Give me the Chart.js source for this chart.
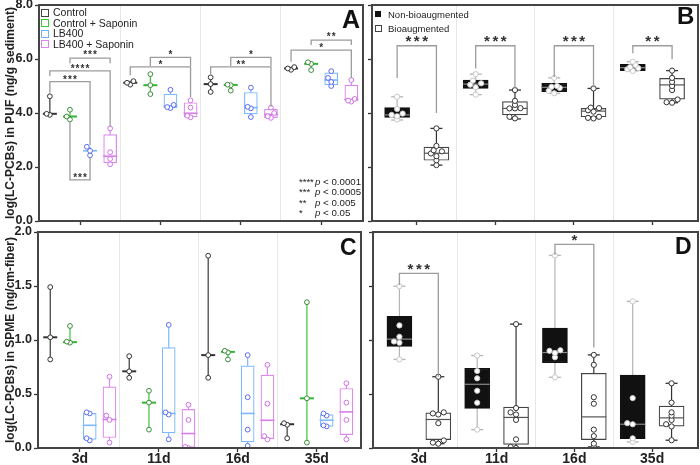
<!DOCTYPE html>
<html><head><meta charset="utf-8">
<script src="https://cdn.jsdelivr.net/npm/chart.js@4.4.1/dist/chart.umd.min.js"></script>
<style>
html,body{margin:0;padding:0;background:#fff;}
#wrap{position:relative;width:700px;height:465px;overflow:hidden;font-family:'Liberation Sans',Arial,sans-serif;color:#222;}
canvas{position:absolute;}
.t{position:absolute;white-space:nowrap;line-height:11px;}
.sq{position:absolute;box-sizing:border-box;background:#fff;}
.L{position:absolute;font-weight:bold;line-height:1;color:#111;}
</style></head><body>
<div id="wrap">
<canvas id="cA" width="368" height="232" style="left:0;top:0"></canvas>
<canvas id="cB" width="332" height="232" style="left:368px;top:0"></canvas>
<canvas id="cC" width="368" height="240" style="left:0;top:225px"></canvas>
<canvas id="cD" width="332" height="240" style="left:368px;top:225px"></canvas>

<div class="sq" style="left:41px;top:8.5px;width:8px;height:8px;border:1.3px solid #444"></div>
<div class="sq" style="left:41px;top:19px;width:8px;height:8px;border:1.3px solid #33cc33"></div>
<div class="sq" style="left:41px;top:29.5px;width:8px;height:8px;border:1.3px solid #6fb2ff"></div>
<div class="sq" style="left:41px;top:40px;width:8px;height:8px;border:1.3px solid #de86ee"></div>
<div class="t" style="left:53px;top:7.2px;font-size:10.5px">Control</div>
<div class="t" style="left:53px;top:17.7px;font-size:10.5px">Control + Saponin</div>
<div class="t" style="left:53px;top:28.2px;font-size:10.5px">LB400</div>
<div class="t" style="left:53px;top:38.7px;font-size:10.5px">LB400 + Saponin</div>

<div class="t" style="left:299px;top:176px;font-size:9.5px">****</div>
<div class="t" style="left:299px;top:186.3px;font-size:9.5px">***</div>
<div class="t" style="left:299px;top:196.6px;font-size:9.5px">**</div>
<div class="t" style="left:299px;top:206.9px;font-size:9.5px">*</div>
<div class="t" style="left:315px;top:176px;font-size:9.7px"><i>p</i> &lt; 0.0001</div>
<div class="t" style="left:315px;top:186.3px;font-size:9.7px"><i>p</i> &lt; 0.0005</div>
<div class="t" style="left:315px;top:196.6px;font-size:9.7px"><i>p</i> &lt; 0.005</div>
<div class="t" style="left:315px;top:206.9px;font-size:9.7px"><i>p</i> &lt; 0.05</div>

<div class="sq" style="left:375px;top:11px;width:6px;height:6px;background:#111"></div>
<div class="sq" style="left:375px;top:24.5px;width:7px;height:7px;border:1px solid #444"></div>
<div class="t" style="left:388px;top:9.2px;font-size:9.5px">Non-bioaugmented</div>
<div class="t" style="left:388px;top:22.7px;font-size:9.5px">Bioaugmented</div>

<div class="L" style="left:342px;top:6.7px;font-size:25px">A</div>
<div class="L" style="left:677px;top:4px;font-size:24px">B</div>
<div class="L" style="left:340px;top:236px;font-size:23px">C</div>
<div class="L" style="left:675px;top:235px;font-size:23px">D</div>
</div>
<script>
// ---------- data ----------
const days = ['3d', '11d', '16d', '35d'];

// Panel A: log(LC-PCBs) in PUF; box rows = [min, q1, median, q3, max] per day
const A_ctrl_box = [[3.93,null,3.97,null,4.62],[5.05,null,5.12,null,5.19],[4.78,null,5.07,null,5.32],[5.6,null,5.65,null,5.71]];
const A_ctrl_pts = [[3.93,3.97,4.62],[5.05,5.12,5.18],[4.78,5.07,5.32],[5.6,5.65,5.7]];
const A_sap_box  = [[3.76,null,3.87,null,4.12],[4.7,null,5.03,null,5.44],[4.83,null,5.04,null,5.05],[5.59,null,5.82,null,5.88]];
const A_sap_pts  = [[3.76,3.87,4.12],[4.7,5.03,5.44],[4.83,5.03,5.05],[5.59,5.82,5.88]];
const A_lb_box   = [[2.43,null,2.6,null,2.75],[4.18,4.2,4.25,4.7,4.87],[3.85,3.97,4.2,4.76,4.94],[5.0,5.04,5.22,5.49,5.56]];
const A_lb_pts   = [[2.43,2.6,2.75],[4.18,4.22,4.3,4.86],[3.85,4.17,4.23,4.94],[5.0,5.15,5.3,5.55]];
const A_lbs_box  = [[2.1,2.15,2.4,3.2,3.43],[3.84,3.86,3.99,4.38,4.48],[3.82,3.83,3.95,4.14,4.2],[4.42,4.45,4.5,5.03,5.25]];
const A_lbs_pts  = [[2.1,2.3,2.55,3.43],[3.84,3.9,4.2,4.47],[3.82,3.88,4.0,4.2],[4.42,4.46,4.52,5.22]];
// significance: [day, series1, series2, bracket y, leg1 end, leg2 end, label, label y]
const A_sig = [
  [0,1,3,6.03,5.84,5.84,'***',6.26],
  [0,0,3,5.56,5.37,3.5,'****',5.74],
  [0,0,2,5.16,4.75,2.81,'***',5.34],
  [0,1,2,1.52,3.7,2.35,'***',1.72],
  [1,1,3,6.06,5.74,5.74,'*',6.27],
  [1,0,3,5.71,5.4,4.59,'*',5.9],
  [2,1,3,6.06,5.74,5.74,'*',6.27],
  [2,0,3,5.71,5.4,4.23,'**',5.9],
  [3,1,3,6.7,6.52,6.52,'**',6.93],
  [3,0,3,6.33,5.9,5.3,'*',6.52]
];

// Panel B: PUF, non-bioaugmented vs bioaugmented
const B_non_box = [[3.74,3.84,3.93,4.2,4.6],[4.68,4.91,5.07,5.22,5.44],[4.73,4.79,4.95,5.1,5.3],[5.56,5.57,5.68,5.8,5.9]];
const B_non_pts = [[3.76,3.88,3.93,3.98,4.15,4.6],[4.68,4.95,5.05,5.1,5.2,5.44],[4.73,4.82,4.93,4.97,5.0,5.3],[5.56,5.62,5.66,5.7,5.78,5.9]];
const B_bio_box = [[2.07,2.25,2.51,2.74,3.43],[3.78,3.93,4.17,4.42,4.85],[3.8,3.86,4.07,4.17,4.91],[4.38,4.51,5.04,5.28,5.57]];
const B_bio_pts = [[2.07,2.25,2.4,2.5,2.58,2.62,2.78,3.43],[3.8,3.86,4.17,4.17,4.18,4.3,4.45,4.85],[3.8,3.82,3.86,4.05,4.1,4.18,4.2,4.91],[4.38,4.4,4.5,4.85,5.0,5.15,5.3,5.57]];
const B_sig = [
  [0,0,1,6.49,5.3,4.0,'***',6.83],
  [1,0,1,6.49,5.65,4.91,'***',6.83],
  [2,0,1,6.49,5.32,4.95,'***',6.83],
  [3,0,1,6.49,6.21,5.99,'**',6.83]
];

// Panel C: log(LC-PCBs) in SPME
const C_ctrl_box = [[0.82,null,1.025,null,1.49],[0.65,null,0.71,null,0.85],[0.65,null,0.86,null,1.78],[0.09,null,0.22,null,0.23]];
const C_ctrl_pts = [[0.82,1.025,1.49],[0.65,0.71,0.85],[0.65,0.86,1.78],[0.09,0.215,0.23]];
const C_sap_box  = [[0.975,null,0.98,null,1.13],[0.17,null,0.42,null,0.53],[0.82,null,0.89,null,0.9],[0.05,null,0.46,null,1.35]];
const C_sap_pts  = [[0.975,0.985,1.13],[0.17,0.42,0.53],[0.82,0.885,0.9],[0.05,0.46,1.35]];
const C_lb_box   = [[0.07,0.08,0.21,0.32,0.33],[0.08,0.14,0.32,0.93,1.14],[0.02,0.056,0.32,0.76,0.86],[0.2,0.2,0.257,0.31,0.32]];
const C_lb_pts   = [[0.07,0.09,0.32,0.33],[0.08,0.31,0.33,1.14],[0.02,0.17,0.47,0.86],[0.2,0.21,0.3,0.32]];
const C_lbs_box  = [[0.05,0.097,0.264,0.567,0.666],[0.0,0.005,0.134,0.357,0.397],[0.075,0.087,0.257,0.675,0.768],[0.075,0.124,0.334,0.551,0.603]];
const C_lbs_pts  = [[0.05,0.26,0.3,0.66],[0.0,0.01,0.26,0.4],[0.08,0.11,0.41,0.77],[0.08,0.26,0.42,0.6]];

// Panel D: SPME, non-bioaugmented vs bioaugmented
const D_non_box = [[0.82,0.94,1.008,1.219,1.498],[0.17,0.366,0.59,0.738,0.856],[0.655,0.79,0.884,1.11,1.783],[0.056,0.087,0.22,0.676,1.358]];
const D_non_pts = [[0.82,0.975,0.986,1.03,1.135,1.498],[0.17,0.419,0.53,0.645,0.713,0.856],[0.655,0.84,0.88,0.9,0.905,1.783],[0.056,0.09,0.22,0.23,0.462,1.358]];
const D_bio_box = [[0.04,0.078,0.264,0.326,0.66],[0.0,0.034,0.283,0.378,1.147],[0.01,0.078,0.288,0.692,0.862],[0.072,0.202,0.279,0.388,0.599]];
const D_bio_pts = [[0.04,0.05,0.07,0.23,0.31,0.32,0.33,0.66],[0.0,0.01,0.08,0.26,0.31,0.33,0.37,1.147],[0.01,0.04,0.11,0.17,0.41,0.47,0.77,0.862],[0.072,0.2,0.22,0.26,0.3,0.33,0.42,0.599]];
const D_sig = [
  [0,0,1,1.616,1.51,0.66,'***',1.69],
  [2,0,1,1.886,1.79,0.93,'*',1.965]
];

// ---------- styles / rendering ----------
Chart.defaults.font.family = "'Liberation Sans', Arial, sans-serif";
const JIT = [0,-1,1,-0.5,0.5,-1.5,1.5,-0.25,0.25];
function jitter(vals, thr) {
  const s = [...vals].sort((a,b)=>a-b); let k = 0;
  return s.map((v,i)=>{ if (i>0 && v - s[i-1] < thr) k++; else k = 0; return [v, JIT[k % JIT.length]]; });
}
const S4 = {
  ctrl: {whisk:'#3a3a3a', edge:'#3a3a3a', fill:'#fff', med:'#333', medW:2, ptFill:'#fff', ptEdge:'#333'},
  sap:  {whisk:'#3cc43c', edge:'#3cc43c', fill:'#fff', med:'#2fb82f', medW:2, ptFill:'#fff', ptEdge:'#3a8a3a'},
  lb:   {whisk:'#7dbaff', edge:'#7dbaff', fill:'#fff', med:'#7dbaff', medW:1.6, ptFill:'#fff', ptEdge:'#5a6cf0'},
  lbs:  {whisk:'#dd88ee', edge:'#dd88ee', fill:'#fff', med:'#d77fe6', medW:1.6, ptFill:'#fff', ptEdge:'#d070e8'}
};
const S2 = {
  non: {whisk:'#b4b4b4', edge:'#111', fill:'#111', med:'#8a8a8a', medW:1.2, ptFill:'#fff', ptEdge:'#c8c8c8'},
  bio: {whisk:'#333', edge:'#444', fill:'#fff', med:'#555', medW:1.2, ptFill:'#fff', ptEdge:'#333'}
};

function makePanel(id, P) {
  const datasets = [];
  P.series.forEach((s, si) => {
    const off = P.offs[si];
    const X = g => g + 0.5 + off;
    const wh = [];
    s.box.forEach((b,g)=>{ wh.push({x:X(g),y:b[0]},{x:X(g),y:b[4]},{x:X(g),y:null}); });
    datasets.push({type:'line', data:wh, borderColor:s.whisk, borderWidth:1.2, pointRadius:0, spanGaps:false, order:10});
    if (P.capR) {
      const caps = [];
      s.box.forEach((b,g)=>{ caps.push({x:X(g),y:b[0]},{x:X(g),y:b[4]}); });
      datasets.push({type:'scatter', data:caps, pointStyle:'line', pointRadius:P.capR, borderColor:s.whisk, pointBorderColor:s.whisk, pointBorderWidth:1.3, order:9});
    }
    const bars = [];
    s.box.forEach((b,g)=>{ if (b[1] != null) bars.push({x:X(g), y:[b[1], b[3]]}); });
    datasets.push({type:'bar', data:bars, backgroundColor:s.fill, borderColor:s.edge, borderWidth:1.2, borderSkipped:false, barThickness:P.boxW, grouped:false, order:8});
    datasets.push({type:'scatter', data:s.box.map((b,g)=>({x:X(g), y:b[2]})), pointStyle:'line', pointRadius:P.medR, borderColor:s.med, pointBorderColor:s.med, pointBorderWidth:s.medW, order:7});
    const pts = [];
    s.pts.forEach((arr,g)=>{ jitter(arr, P.thr).forEach(([v,j])=>pts.push({x:X(g) + j*P.jw, y:v})); });
    datasets.push({type:'scatter', data:pts, pointStyle:'circle', pointRadius:P.ptR, backgroundColor:s.ptFill, pointBackgroundColor:s.ptFill, borderColor:s.ptEdge, pointBorderColor:s.ptEdge, pointBorderWidth:1, order:6});
  });
  const br = [], labels = [];
  P.sig.forEach(([g,s1,s2,top,l1,l2,txt,ly])=>{
    const x1 = g + 0.5 + P.offs[s1], x2 = g + 0.5 + P.offs[s2];
    br.push({x:x1,y:l1},{x:x1,y:top},{x:x2,y:top},{x:x2,y:l2},{x:x2,y:null});
    labels.push({x:(x1+x2)/2, y:ly, t:txt});
  });
  datasets.push({type:'line', data:br, borderColor:'#9c9c9c', borderWidth:1.3, pointRadius:0, spanGaps:false, order:1, clip:false});

  const sigPlugin = {id:'sigLabels', afterDatasetsDraw(chart){
    const c = chart.ctx, xs = chart.scales.x, ys = chart.scales.y;
    c.save(); c.font = 'bold ' + P.sigSize + "px 'Liberation Sans', Arial, sans-serif";
    c.fillStyle = '#333'; c.textAlign = 'center'; c.textBaseline = 'alphabetic';
    c.letterSpacing = P.sigLS + 'px';
    labels.forEach(l => c.fillText(l.t, xs.getPixelForValue(l.x) + P.sigLS/2, ys.getPixelForValue(l.y) + 0.6*P.sigSize));
    c.restore();
  }};
  const framePlugin = {id:'frame', afterDraw(chart){
    const c = chart.ctx, a = chart.chartArea;
    c.save(); c.strokeStyle = '#444'; c.lineWidth = 2;
    c.strokeRect(a.left, a.top, a.right - a.left, a.bottom - a.top); c.restore();
  }};

  return new Chart(document.getElementById(id), {
    type:'bar',
    data:{datasets},
    plugins:[sigPlugin, framePlugin],
    options:{
      responsive:false, animation:false, events:[],
      layout:{autoPadding:false, padding:{top:P.padT, right:P.padR, left:0, bottom:0}},
      plugins:{legend:{display:false}, tooltip:{enabled:false}},
      scales:{
        x:{type:'linear', min:P.xmin, max:P.xmax, offset:false,
          afterBuildTicks: sc => { sc.ticks = [0.5,1,1.5,2,2.5,3,3.5].map(v=>({value:v})); },
          afterFit: sc => { sc.height = P.xh; sc.paddingLeft = 0; sc.paddingRight = 0; },
          grid:{offset:false, drawOnChartArea:true, lineWidth:1, tickLength:4, tickWidth:1.3,
            color: ctx => (ctx.tick && Number.isInteger(ctx.tick.value)) ? '#e6e6e6' : 'rgba(0,0,0,0)',
            tickColor: ctx => (ctx.tick && !Number.isInteger(ctx.tick.value)) ? '#333' : 'rgba(0,0,0,0)'},
          border:{display:false},
          ticks:{autoSkip:false, maxRotation:0, padding:0, color:'#222',
            font:{size:14, weight:'bold', lineHeight:1},
            callback: v => (P.showX && !Number.isInteger(v)) ? days[Math.floor(v)] : ''}
        },
        y:{min:P.ymin, max:P.ymax,
          afterFit: sc => { sc.width = P.yw; sc.paddingTop = 0; sc.paddingBottom = 0; },
          ticks:{stepSize:P.step, display:P.showY, padding:2, color:'#222', font:{size:12.5, weight:'bold'}, callback: v => v.toFixed(1)},
          grid:{drawOnChartArea:false, tickLength:4, tickWidth:1.3, tickColor:'#333'},
          border:{display:false},
          title:{display:!!P.yTitle, text:P.yTitle || '', color:'#222', font:{size:12, weight:'bold'}, padding:{top:3, bottom:0}}
        }
      }
    }
  });
}

const off4 = [-0.375, -0.125, 0.125, 0.375];
const off2 = [-0.25, 0.25];

makePanel('cA', {
  series:[Object.assign({box:A_ctrl_box, pts:A_ctrl_pts}, S4.ctrl), Object.assign({box:A_sap_box, pts:A_sap_pts}, S4.sap),
          Object.assign({box:A_lb_box, pts:A_lb_pts}, S4.lb), Object.assign({box:A_lbs_box, pts:A_lbs_pts}, S4.lbs)],
  offs:off4, sig:A_sig, boxW:13, medR:7, capR:0, ptR:2.4, jw:0.04, thr:0.15,
  xmin:-0.01, xmax:4.02, ymin:0, ymax:8, step:2, yw:39, xh:11, padT:5, padR:5,
  showX:false, showY:true, yTitle:'log(LC-PCBs) in PUF (ng/g sediment)', sigSize:10, sigLS:1
});
makePanel('cB', {
  series:[Object.assign({box:B_non_box, pts:B_non_pts}, S2.non), Object.assign({box:B_bio_box, pts:B_bio_pts}, S2.bio)],
  offs:off2, sig:B_sig, boxW:25, medR:12.5, capR:6, ptR:2.6, jw:0.07, thr:0.12,
  xmin:-0.07, xmax:4.08, ymin:0, ymax:8, step:2, yw:4, xh:11, padT:5, padR:2,
  showX:false, showY:false, yTitle:'', sigSize:15, sigLS:2.5
});
makePanel('cC', {
  series:[Object.assign({box:C_ctrl_box, pts:C_ctrl_pts}, S4.ctrl), Object.assign({box:C_sap_box, pts:C_sap_pts}, S4.sap),
          Object.assign({box:C_lb_box, pts:C_lb_pts}, S4.lb), Object.assign({box:C_lbs_box, pts:C_lbs_pts}, S4.lbs)],
  offs:off4, sig:[], boxW:13, medR:7, capR:0, ptR:2.4, jw:0.04, thr:0.04,
  xmin:-0.03, xmax:4.06, ymin:0, ymax:2, step:0.5, yw:38, xh:17, padT:7, padR:7,
  showX:true, showY:true, yTitle:'log(LC-PCBs) in SPME (ng/cm-fiber)', sigSize:10, sigLS:1
});
makePanel('cD', {
  series:[Object.assign({box:D_non_box, pts:D_non_pts}, S2.non), Object.assign({box:D_bio_box, pts:D_bio_pts}, S2.bio)],
  offs:off2, sig:D_sig, boxW:25, medR:12.5, capR:6, ptR:2.6, jw:0.07, thr:0.03,
  xmin:-0.09, xmax:4.09, ymin:0, ymax:2, step:0.5, yw:5, xh:17, padT:7, padR:2,
  showX:true, showY:false, yTitle:'', sigSize:15, sigLS:2.5
});
</script>
</body></html>
